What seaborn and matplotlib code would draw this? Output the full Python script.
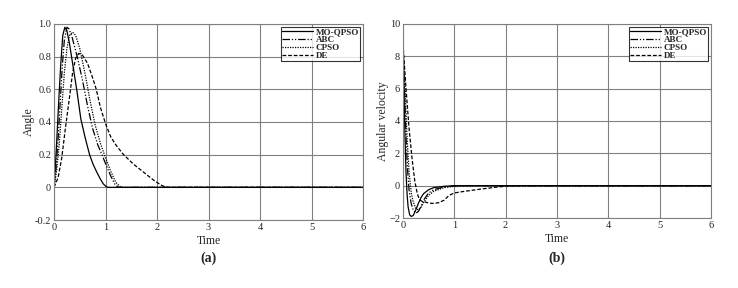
import matplotlib
matplotlib.use("Agg")
import matplotlib.pyplot as plt
import pandas as pd
import seaborn as sns

# Angle response (panel a)
mo_t = [0, 0.03, 0.06, 0.09, 0.13, 0.17, 0.21, 0.25, 0.3, 0.36, 0.44, 0.52, 0.6, 0.69, 0.76, 0.82, 0.9, 0.96, 1.01, 1.05, 6]
mo_a = [0, 0.15, 0.33, 0.52, 0.75, 0.93, 0.98, 0.96, 0.88, 0.76, 0.6, 0.42, 0.31, 0.2, 0.14, 0.1, 0.05, 0.02, 0.005, 0, 0]
abc_t = [0, 0.04, 0.08, 0.12, 0.16, 0.2, 0.25, 0.29, 0.35, 0.45, 0.55, 0.65, 0.75, 0.85, 0.93, 1.02, 1.1, 1.18, 1.25, 6]
abc_a = [0, 0.12, 0.3, 0.52, 0.74, 0.9, 0.98, 0.97, 0.92, 0.8, 0.66, 0.5, 0.36, 0.26, 0.2, 0.13, 0.07, 0.02, 0, 0]
cpso_t = [0, 0.05, 0.1, 0.15, 0.2, 0.25, 0.3, 0.36, 0.42, 0.5, 0.6, 0.7, 0.8, 0.9, 1.0, 1.1, 1.2, 1.3, 6]
cpso_a = [0, 0.1, 0.26, 0.48, 0.7, 0.85, 0.93, 0.95, 0.93, 0.85, 0.7, 0.53, 0.38, 0.27, 0.18, 0.1, 0.03, 0, 0]
de_t = [0, 0.08, 0.15, 0.22, 0.3, 0.36, 0.42, 0.48, 0.55, 0.65, 0.75, 0.82, 0.9, 1.0, 1.1, 1.2, 1.35, 1.55, 1.75, 1.95, 2.1, 2.2, 6]
de_a = [0, 0.06, 0.18, 0.36, 0.55, 0.7, 0.79, 0.82, 0.81, 0.76, 0.67, 0.6, 0.49, 0.39, 0.31, 0.26, 0.2, 0.14, 0.09, 0.04, 0.01, 0, 0]

# Angular velocity response (panel b)
mo_vt = [0, 0.02, 0.04, 0.06, 0.08, 0.1, 0.13, 0.16, 0.2, 0.25, 0.3, 0.35, 0.4, 0.5, 0.6, 0.8, 1.0, 6]
mo_v = [8.8, 6.0, 3.0, 0.8, -0.5, -1.3, -1.8, -1.9, -1.85, -1.5, -1.1, -0.75, -0.5, -0.25, -0.12, -0.04, 0, 0]
abc_vt = [0, 0.03, 0.06, 0.09, 0.12, 0.16, 0.2, 0.25, 0.3, 0.35, 0.4, 0.5, 0.6, 0.8, 1.0, 1.3, 6]
abc_v = [8.8, 6.0, 3.0, 1.0, -0.3, -1.1, -1.5, -1.7, -1.6, -1.3, -0.9, -0.45, -0.25, -0.08, -0.02, 0, 0]
cpso_vt = [0, 0.04, 0.08, 0.12, 0.16, 0.2, 0.25, 0.3, 0.35, 0.4, 0.5, 0.6, 0.8, 1.0, 1.3, 6]
cpso_v = [8.8, 6.0, 3.0, 0.8, -0.4, -1.0, -1.4, -1.5, -1.35, -1.05, -0.6, -0.35, -0.12, -0.04, 0, 0]
de_vt = [0, 0.06, 0.12, 0.18, 0.23, 0.28, 0.32, 0.36, 0.4, 0.45, 0.5, 0.6, 0.7, 0.8, 0.9, 1.0, 1.2, 1.5, 1.8, 2.0, 2.3, 6]
de_v = [8.8, 6.0, 3.5, 1.6, 0.3, -0.5, -0.85, -0.95, -1.0, -1.02, -1.08, -1.1, -1.05, -0.9, -0.6, -0.45, -0.35, -0.22, -0.1, -0.03, 0, 0]

labels = ["MO-QPSO", "ABC", "CPSO", "DE"]
styles = ["-", (0, (6, 1.5, 1, 1.5, 1, 1.5)), (0, (1, 1)), (0, (3, 1.5))]

sns.set_theme(style="whitegrid")
plt.rcParams["font.family"] = ["Liberation Serif", "DejaVu Serif"]

fig = plt.figure(figsize=(7.38, 2.88), dpi=100)
ax1 = fig.add_axes([0.0732, 0.2361, 0.4187, 0.6806])
ax2 = fig.add_axes([0.546, 0.243, 0.4173, 0.674])

angle_data = [(mo_t, mo_a), (abc_t, abc_a), (cpso_t, cpso_a), (de_t, de_a)]
vel_data = [(mo_vt, mo_v), (abc_vt, abc_v), (cpso_vt, cpso_v), (de_vt, de_v)]


def draw_panel(ax, series, ylim, yticks, ylabel, caption, cap_y):
    for (t, v), lab, ls in zip(series, labels, styles):
        df = pd.DataFrame({"t": t, "v": v})
        sns.lineplot(data=df, x="t", y="v", ax=ax, color="black",
                     linestyle=ls, linewidth=0.9, label=lab)
    ax.set_xlim(0, 6)
    ax.set_ylim(*ylim)
    ax.set_xticks(range(7))
    ax.set_yticks(yticks)
    ax.grid(True, color="#808080", linewidth=0.8)
    for s in ax.spines.values():
        s.set_color("#808080")
        s.set_linewidth(0.8)
    ax.tick_params(labelsize=7.5, pad=2, length=0)
    ax.set_xlabel("Time", fontsize=8.5, labelpad=2)
    ax.set_ylabel(ylabel, fontsize=8.5, labelpad=0)
    leg = ax.legend(loc="upper right", fontsize=6.5, handlelength=3.4, frameon=True,
                    fancybox=False, borderpad=0.15, labelspacing=-0.05,
                    borderaxespad=0.3, handletextpad=0.3)
    leg.get_frame().set_edgecolor("black")
    leg.get_frame().set_linewidth(0.8)
    for txt in leg.get_texts():
        txt.set_fontweight("bold")
    ax.text(0.5, cap_y, caption, transform=ax.transAxes, ha="center", va="center",
            fontsize=10, fontweight="bold")


draw_panel(ax1, angle_data, (-0.2, 1.0), [-0.2, 0, 0.2, 0.4, 0.6, 0.8, 1.0], "Angle", "(a)", -0.195)
ax1.set_yticklabels(["-0.2", "0", "0.2", "0.4", "0.6", "0.8", "1.0"])
draw_panel(ax2, vel_data, (-2, 10), [-2, 0, 2, 4, 6, 8, 10], "Angular velocity", "(b)", -0.206)

fig.savefig("out.png", dpi=100)
